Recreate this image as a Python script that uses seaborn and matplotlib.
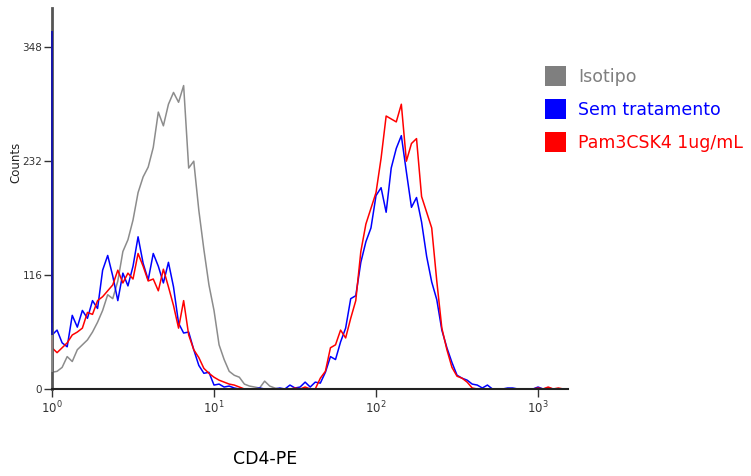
import numpy as np
import pandas as pd
import matplotlib
matplotlib.use("Agg")
import matplotlib.pyplot as plt
import seaborn as sns
from matplotlib.patches import Patch
from matplotlib.ticker import NullLocator


samples = ["Isotipo", "Sem tratamento", "Pam3CSK4 1ug/mL"]
line_colors = ["#8c8c8c", "#0000ff", "#ff0000"]
text_colors = ["#7f7f7f", "#0000ff", "#ff0000"]

# histogram counts, 32 channels per decade starting at 10^0
channels_per_decade = 32

isotipo = [17, 18, 22, 33, 28, 40, 45, 50, 58, 68,
           80, 96, 92, 110, 140, 152, 172, 200, 216, 226,
           246, 282, 268, 290, 302, 292, 309, 225, 232, 182,
           142, 106, 80, 45, 30, 18, 14, 12, 5, 3,
           2, 1, 8, 3, 1, 0, 0, 0, 0, 0,
           0, 0, 0, 0, 0, 0, 0, 0, 0, 0,
           0, 0, 0, 0, 0, 0, 0, 0, 0, 0,
           0, 0, 0, 0, 0, 0, 0, 0, 0, 0,
           0, 0, 0, 0, 0, 0, 0, 0, 0, 0,
           0, 0, 0, 0, 0, 0, 0, 0, 0, 0,
           0, 0, 0]

sem_tratamento = [55, 60, 47, 43, 75, 63, 80, 72, 90, 82,
                  121, 136, 115, 90, 118, 105, 125, 155, 128, 111,
                  138, 125, 108, 129, 104, 67, 57, 58, 40, 24,
                  16, 17, 4, 5, 2, 3, 1, 0, 0, 0,
                  0, 1, 0, 0, 0, 1, 0, 4, 1, 2,
                  7, 2, 7, 6, 17, 33, 30, 48, 62, 92,
                  95, 129, 150, 164, 197, 205, 180, 225, 245, 258,
                  221, 185, 195, 170, 135, 109, 91, 60, 42, 27,
                  14, 11, 9, 5, 4, 1, 4, 0, 0, 0,
                  1, 1, 0, 0, 0, 0, 2, 0, 1, 0,
                  0, 0, 0]

pam3csk4 = [42, 37, 42, 47, 55, 58, 62, 78, 76, 90,
            94, 100, 106, 121, 108, 118, 112, 138, 125, 110,
            112, 100, 122, 104, 85, 62, 90, 55, 40, 32,
            21, 16, 12, 9, 7, 5, 4, 2, 0, 0,
            0, 0, 0, 0, 0, 0, 0, 0, 1, 0,
            2, 0, 0, 11, 18, 42, 45, 60, 52, 72,
            90, 140, 168, 184, 200, 235, 278, 275, 272, 290,
            232, 250, 255, 196, 180, 164, 110, 62, 40, 22,
            13, 11, 7, 1, 0, 0, 0, 0, 0, 0,
            0, 0, 0, 0, 0, 0, 1, 0, 2, 0,
            1, 0, 0]

# pile-up in the first channel (top of the spike on the y axis)
first_channel = [67, 365, 50]

x_ticks = [1, 10, 100, 1000]
y_ticks = [0, 116, 232, 348]

series = [isotipo, sem_tratamento, pam3csk4]
fl = 10 ** (np.arange(len(isotipo)) / channels_per_decade)

df = pd.DataFrame({
    "fl": np.tile(fl, len(samples)),
    "counts": np.concatenate(series),
    "sample": np.repeat(samples, len(fl)),
})

sns.set_style("white")
plt.rcParams["font.family"] = ["DejaVu Sans"]

fig = plt.figure(figsize=(7.51, 4.76), dpi=100)
ax = fig.add_axes([52 / 751, 87 / 476, 516 / 751, 381 / 476])

for name, col in zip(samples, line_colors):
    sns.lineplot(data=df[df["sample"] == name], x="fl", y="counts",
                 color=col, linewidth=1.1, estimator=None, ax=ax)

# red and gray spikes first, blue on top like the reference
spike_order = [2, 0, 1]
ax.vlines([fl[0]] * len(series),
          [series[i][0] for i in spike_order],
          [first_channel[i] for i in spike_order],
          colors=["#ff0000", "#8c8c8c", "#1010b0"], linewidth=1.3,
          zorder=3, clip_on=False)

ax.set_xscale("log")
ax.set_xlim(1, 10 ** 3.185)
ax.set_ylim(0, 388)
ax.set_xticks(x_ticks)
ax.xaxis.set_minor_locator(NullLocator())
ax.set_yticks(y_ticks)
ax.set_yticklabels([str(v) for v in y_ticks])

for side in ["top", "right"]:
    ax.spines[side].set_visible(False)
ax.spines["left"].set_color("#555555")
ax.spines["left"].set_linewidth(2)
ax.spines["bottom"].set_color("#222222")
ax.spines["bottom"].set_linewidth(1.5)

ax.tick_params(axis="y", direction="out", length=6, width=1,
               labelsize=7.5, colors="#333333", left=True, pad=1)
ax.tick_params(axis="x", direction="out", length=6, width=1,
               labelsize=8.5, colors="#333333", bottom=True, pad=2)

ax.set_ylabel("Counts", fontsize=8.5, color="#222222")
ax.yaxis.set_label_coords(-0.058, 0.596)
ax.set_xlabel("CD4-PE", fontsize=12.5, color="black")
ax.xaxis.set_label_coords(0.413, -0.16)

handles = [Patch(facecolor=c, edgecolor="none") for c in text_colors]
fig.legend(handles, samples, loc="upper left",
           bbox_to_anchor=(545 / 751, 1 - 66 / 476),
           frameon=False, fontsize=12.5, handlelength=1.2,
           handleheight=1.4, handletextpad=0.7, labelspacing=0.75,
           borderpad=0, borderaxespad=0, labelcolor=text_colors)

fig.savefig("out.png", dpi=100)
